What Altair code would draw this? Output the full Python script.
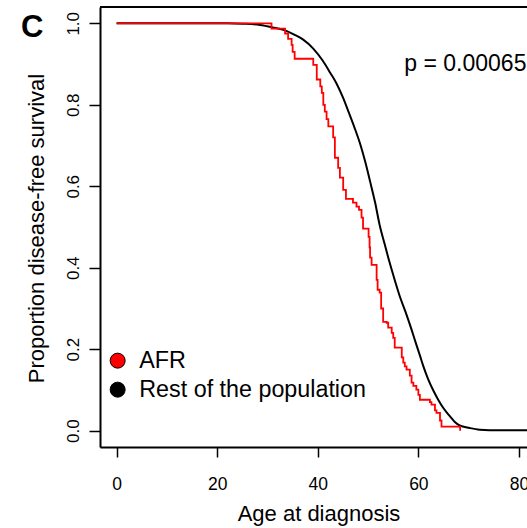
import altair as alt
import pandas as pd

# Rest of the population (black curve)
rest_age = [0, 22, 25, 28.5, 31, 33.6, 35.5, 37.1, 39.1, 41.0, 42.5, 43.7, 45.0, 46.2, 47.3,
            48.4, 49.4, 50.4, 51.4, 52.3, 53.3, 54.3, 55.3, 56.3, 57.5, 58.6, 59.5, 60.3,
            61.0, 61.9, 63.0, 64.0, 65.0, 66.3, 67.2, 68.2, 70.2, 72.2, 76, 82]
rest_surv = [1.0, 1.0, 0.999, 0.996, 0.99, 0.982, 0.971, 0.960, 0.938, 0.908, 0.878, 0.853,
             0.818, 0.780, 0.744, 0.705, 0.662, 0.612, 0.560, 0.505, 0.458, 0.412, 0.370,
             0.330, 0.290, 0.250, 0.215, 0.185, 0.158, 0.128, 0.098, 0.075, 0.055, 0.035,
             0.022, 0.013, 0.0066, 0.0025, 0.001, 0.001]

# AFR (red step curve)
afr_age = [0, 30.8, 33.5, 34.1, 34.8, 35.0, 35.4, 39.1, 39.8, 40.5, 40.8, 41.1, 41.4, 41.75,
           42.1, 43.06, 43.4, 44.05, 44.4, 45.05, 45.6, 47.0, 47.7, 48.2, 48.7, 49.0, 50.1,
           50.3, 50.4, 50.7, 51.7, 51.9, 52.3, 52.6, 53.0, 53.7, 54.0, 54.7, 55.0, 55.3,
           56.7, 57.0, 57.3, 57.65, 58.3, 58.65, 59.0, 59.6, 60.0, 60.3, 62.3, 62.6, 63.3,
           63.6, 64.3, 64.6, 68.3]
afr_surv = [1.0, 0.987, 0.975, 0.962, 0.947, 0.93, 0.913, 0.898, 0.862, 0.845, 0.829, 0.80,
            0.783, 0.765, 0.747, 0.72, 0.670, 0.645, 0.621, 0.591, 0.569, 0.560, 0.550, 0.542,
            0.523, 0.496, 0.476, 0.45, 0.425, 0.407, 0.37, 0.346, 0.339, 0.30, 0.267, 0.265,
            0.253, 0.240, 0.228, 0.204, 0.18, 0.167, 0.158, 0.150, 0.135, 0.118, 0.11, 0.101,
            0.088, 0.076, 0.07, 0.064, 0.05, 0.044, 0.025, 0.010, 0.0]

groups = ["AFR", "Rest of the population"]
group_fills = ["#FF0000", "#000000"]
x_ticks = [0, 20, 40, 60, 80]
y_ticks = [0.0, 0.2, 0.4, 0.6, 0.8, 1.0]
p_label = "p = 0.00065"

FONT = "Liberation Sans"
W, H = 427, 440

rest_df = pd.DataFrame({"age": rest_age, "surv": rest_surv})
afr_df = pd.DataFrame({"age": afr_age, "surv": afr_surv})
legend_df = pd.DataFrame({"group": groups})

xscale = alt.Scale(domain=[-3.3, 81.6], nice=False, zero=False)
yscale = alt.Scale(domain=[-0.04, 1.04], nice=False, zero=False)

xaxis = alt.Axis(values=x_ticks, format="d", title="Age at diagnosis", grid=False,
                 domainColor="black", domainWidth=2, tickColor="black", tickWidth=1.5,
                 tickSize=10, labelFontSize=17.5, labelFont=FONT, labelColor="black",
                 labelBaseline="alphabetic", labelPadding=32, labelFlush=False,
                 titleFont=FONT, titleFontSize=22, titleFontWeight="normal", titleColor="black",
                 titleBaseline="alphabetic", titleAlign="center", titleX=218.5, titleY=73)
yaxis = alt.Axis(values=y_ticks, format=".1f", title="Proportion disease-free survival",
                 grid=False, domainColor="black", domainWidth=2, tickColor="black",
                 tickWidth=1.5, tickSize=11, labelFontSize=17, labelFont=FONT,
                 labelColor="black", labelAngle=270, labelAlign="center",
                 labelBaseline="alphabetic", labelPadding=11, labelFlush=False,
                 titleFont=FONT, titleFontSize=22, titleFontWeight="normal", titleColor="black",
                 titleAngle=270, titleBaseline="alphabetic", titleAlign="center",
                 titleX=-57, titleY=221)

black_line = alt.Chart(rest_df).mark_line(color="black", strokeWidth=2, clip=True,
                                          interpolate="monotone").encode(
    x=alt.X("age:Q", scale=xscale, axis=xaxis),
    y=alt.Y("surv:Q", scale=yscale, axis=yaxis),
)

red_line = alt.Chart(afr_df).mark_line(color="#FF0000", strokeWidth=1.8, clip=True,
                                       interpolate="step-after").encode(
    x=alt.X("age:Q", scale=xscale),
    y=alt.Y("surv:Q", scale=yscale),
)

legend_pts = alt.Chart(legend_df).mark_point(filled=True, opacity=0, stroke="black",
                                             strokeWidth=1).encode(
    fill=alt.Fill("group:N", scale=alt.Scale(domain=groups, range=group_fills),
                  legend=alt.Legend(orient="none", legendX=6.0, legendY=342, title=None,
                                    symbolType="circle", symbolSize=225,
                                    symbolStrokeColor="black", symbolStrokeWidth=1,
                                    symbolOpacity=1, labelFontSize=23.3, labelFont=FONT,
                                    labelColor="black", labelOffset=10, labelLimit=500,
                                    rowPadding=5, padding=0)),
)

top_border = alt.Chart(legend_df).mark_rule(color="black", strokeWidth=2).encode(
    x=alt.value(0), x2=alt.value(W), y=alt.value(0)
)

p_text = alt.Chart(pd.DataFrame({"t": [p_label]})).mark_text(
    align="left", baseline="alphabetic", fontSize=23, font=FONT, color="black"
).encode(x=alt.datum(57.2), y=alt.datum(0.882), text="t:N")

panel_label = alt.Chart(pd.DataFrame({"t": ["C"]})).mark_text(
    align="left", baseline="alphabetic", fontSize=31, fontWeight="bold", font=FONT,
    color="black"
).encode(x=alt.value(-79), y=alt.value(29.5), text="t:N")

chart = alt.layer(black_line, red_line, legend_pts, top_border, p_text, panel_label).properties(
    width=W, height=H,
    autosize=alt.AutoSizeParams(type="none"),
    padding={"left": 100, "top": 7, "right": 0, "bottom": 81},
).configure_view(stroke=None).configure(background="white")

chart.save("out.html", embed_options={"renderer": "svg", "actions": False})
